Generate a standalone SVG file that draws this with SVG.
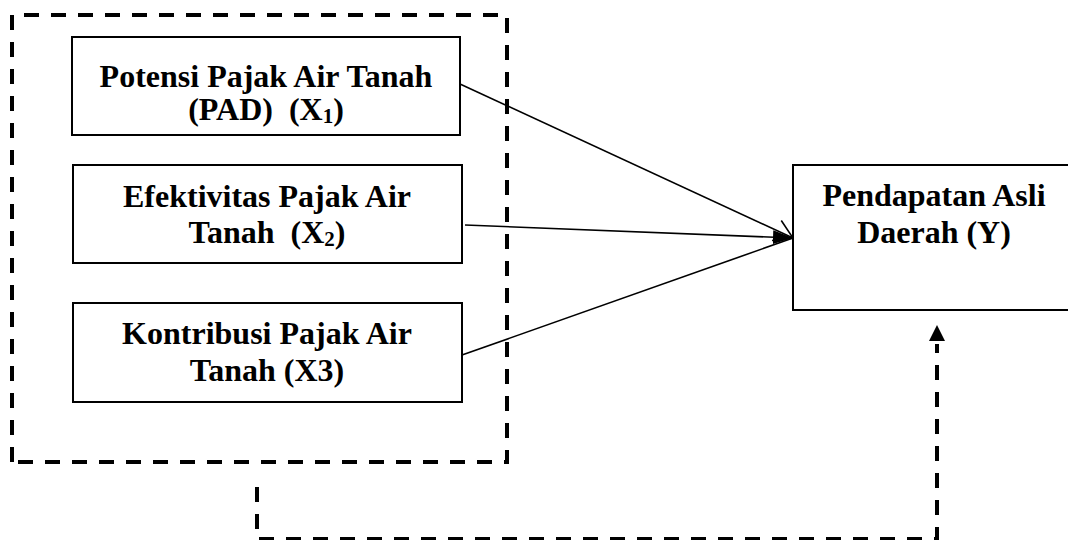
<svg xmlns="http://www.w3.org/2000/svg" width="1068" height="540" viewBox="0 0 1068 540">
<defs>
<style>
.box{fill:#fff;stroke:#000;stroke-width:2}
.t{font-family:"Liberation Serif","Times New Roman",serif;font-weight:bold;font-size:32px;fill:#000;text-anchor:middle}
.sub{font-size:21px}
.dash{fill:none;stroke:#000;stroke-width:4;stroke-dasharray:15 12}
.con{fill:none;stroke:#000;stroke-width:1.6}
</style>
<marker id="ah" viewBox="0 0 20 16" refX="20" refY="8" markerWidth="20" markerHeight="16" markerUnits="userSpaceOnUse" orient="auto">
<path d="M0,1 L20,8 L0,15 Z" fill="#000"/>
</marker>
<marker id="open" viewBox="0 0 22 24" refX="21" refY="12" markerWidth="22" markerHeight="24" markerUnits="userSpaceOnUse" orient="auto">
<path d="M3,1 L21,12 L3,23" fill="none" stroke="#000" stroke-width="1.6"/>
</marker>
<marker id="up" viewBox="0 0 16 16" refX="8" refY="0" markerWidth="16" markerHeight="16" markerUnits="userSpaceOnUse" orient="0">
<path d="M8,0 L16,16 L0,16 Z" fill="#000"/>
</marker>
</defs>
<rect width="1068" height="540" fill="#fff"/>
<g id="group-x">
<path class="dash" d="M12,462 V15 H507 V462 Z"/>
</g>
<g id="node-x1">
<rect class="box" x="72" y="37" width="388" height="98"/>
<text class="t" x="266" y="87">Potensi Pajak Air Tanah</text>
<text class="t" x="266" y="120" xml:space="preserve">(PAD)  (X<tspan class="sub" dy="3">1</tspan><tspan dy="-3">)</tspan></text>
</g>
<g id="node-x2">
<rect class="box" x="73" y="165" width="389" height="98"/>
<text class="t" x="267" y="207">Efektivitas Pajak Air</text>
<text class="t" x="267" y="243" xml:space="preserve">Tanah  (X<tspan class="sub" dy="3">2</tspan><tspan dy="-3">)</tspan></text>
</g>
<g id="node-x3">
<rect class="box" x="73" y="303" width="389" height="99"/>
<text class="t" x="267" y="344">Kontribusi Pajak Air</text>
<text class="t" x="267" y="381">Tanah (X3)</text>
</g>
<g id="node-y">
<rect class="box" x="793" y="165" width="290" height="145"/>
<text class="t" x="934" y="206">Pendapatan Asli</text>
<text class="t" x="934" y="243">Daerah (Y)</text>
</g>
<g id="connectors">
<line class="con" x1="460" y1="84" x2="793" y2="238" marker-end="url(#open)"/>
<line class="con" x1="462" y1="355" x2="793" y2="238"/>
<line class="con" x1="465" y1="225" x2="793" y2="238" marker-end="url(#ah)"/>
<path class="dash" d="M257,487 V539 H937 V344"/>
<path d="M937,325 L945,341 L929,341 Z" fill="#000"/>
</g>
</svg>
